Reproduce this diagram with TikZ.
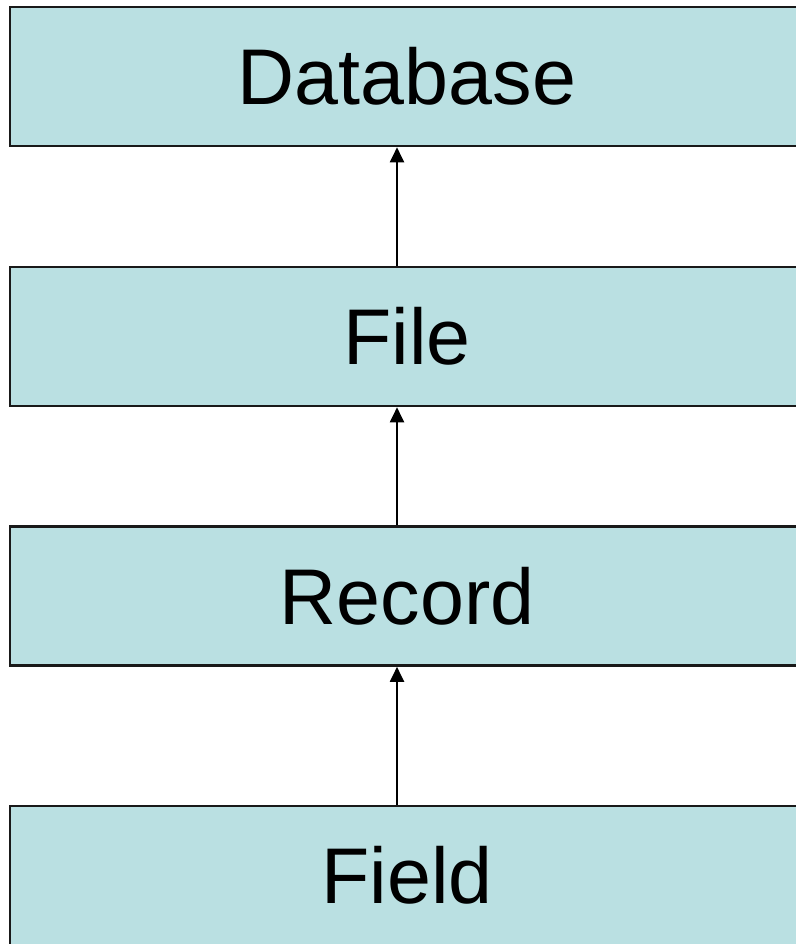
\documentclass[tikz,border=0pt]{standalone}
\usepackage{fontspec}
\setmainfont{Liberation Sans}
\usetikzlibrary{arrows.meta,positioning}
\definecolor{boxfill}{RGB}{186,224,226}

\begin{document}
\begin{tikzpicture} [x=1pt,y=-1pt,-{Triangle[length=15pt,width=14pt]},line width=2pt,
    level/.style={rectangle,draw=black!90,line width=2.6pt,fill=boxfill,
      minimum width=794pt,minimum height=139pt,inner sep=0pt,
      font=\fontsize{79}{90}\selectfont}]
  \useasboundingbox (0,0) rectangle (795,944);
  \node[level] (db) at (407,76.5) {Database};
  \node[level] (file) at (407,336.5) {File};
  \node[level] (rec) at (407,596) {Record};
  \node[level] (field) at (407,875.5) {Field};
  \coordinate (ax) at (397,0);

  \draw (file.north -| ax) -- (db.south -| ax);
  \draw (rec.north -| ax) -- (file.south -| ax);
  \draw (field.north -| ax) -- (rec.south -| ax);
\end{tikzpicture}
\end{document}
